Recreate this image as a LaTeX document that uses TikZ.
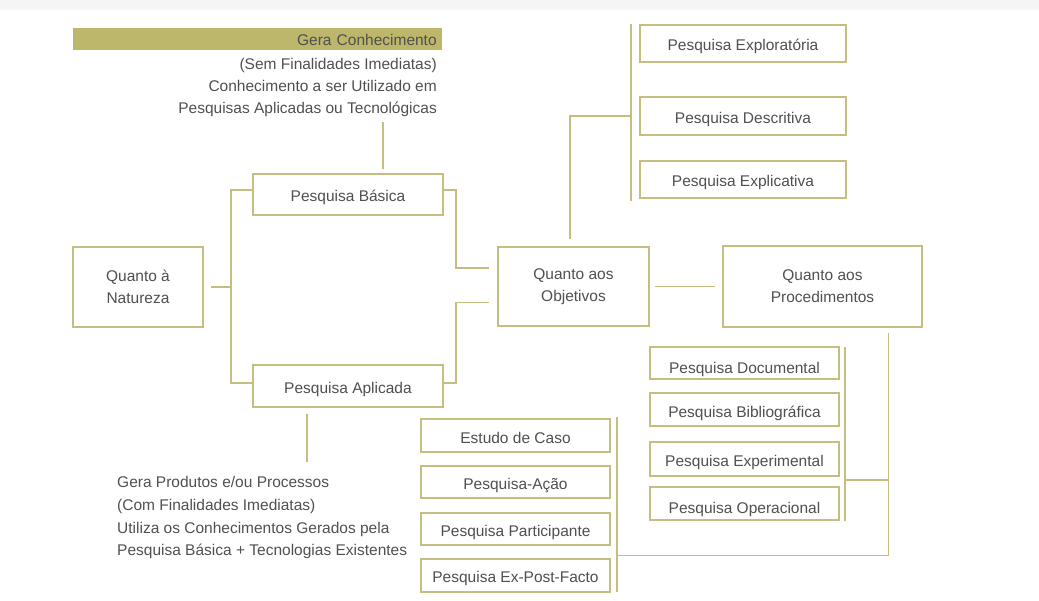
\documentclass[tikz,border=0pt]{standalone}
\usepackage{fontspec}
\setmainfont{Liberation Sans}
\usetikzlibrary{calc}
\definecolor{oliva}{RGB}{196,190,128}
\definecolor{olivafundo}{RGB}{189,183,107}
\definecolor{texto}{RGB}{80,80,80}
\begin{document}
\begin{tikzpicture}[x=1pt,y=-1pt]
    \tikzstyle{caixa}=[rectangle, draw=oliva, line width=1.8pt, fill=white,
                            inner sep=0pt, align=center, text=texto,
                            font=\fontsize{15.5}{22}\selectfont]
    \tikzstyle{linha}=[caixa, text height=17.6pt, text depth=3.5pt]
    \tikzstyle{liga}=[draw=oliva, line width=1.8pt]
    \tikzstyle{nota}=[inner sep=0pt, text=texto,
                            font=\fontsize{15.5}{22.8}\selectfont]

    \useasboundingbox (0,0) rectangle (1039,601);
    \fill[gray!8] (0,0) rectangle (1039,10);

    \node[caixa, minimum width=130, minimum height=80] (natureza) at (138,287) {Quanto à\\Natureza};
    \node[linha, minimum width=190, minimum height=41] (basica) at (348,194.5) {Pesquisa Básica};
    \node[linha, minimum width=190, minimum height=42] (aplicada) at (348,386) {Pesquisa Aplicada};
    \node[caixa, minimum width=151, minimum height=79] (objetivos) at (573.5,286.5) {Quanto aos\\Objetivos};
    \node[caixa, minimum width=199, minimum height=81] (procedimentos) at (822.5,286.5) {Quanto aos\\Procedimentos};

    \node[linha, minimum width=206, minimum height=37] (exploratoria) at (743,43.5) {Pesquisa Exploratória};
    \node[linha, minimum width=206, minimum height=38] (descritiva) at (743,116) {Pesquisa Descritiva};
    \node[linha, minimum width=206, minimum height=37] (explicativa) at (743,179.5) {Pesquisa Explicativa};

    \node[linha, text height=23.6pt, minimum width=189, minimum height=32] (documental) at (744.5,363) {Pesquisa Documental};
    \node[linha, text height=19.6pt, minimum width=189, minimum height=33] (bibliografica) at (744.5,409.5) {Pesquisa Bibliográfica};
    \node[linha, minimum width=189, minimum height=34] (experimental) at (744.5,459) {Pesquisa Experimental};
    \node[linha, text height=23.6pt, minimum width=189, minimum height=33] (operacional) at (744.5,503.5) {Pesquisa Operacional};

    \node[linha, text height=19.6pt, minimum width=189, minimum height=33] (estudo) at (515.5,435.5) {Estudo de Caso};
    \node[linha, minimum width=189, minimum height=32] (acao) at (515.5,482) {Pesquisa-Ação};
    \node[linha, minimum width=189, minimum height=32] (participante) at (515.5,529) {Pesquisa Participante};
    \node[linha, minimum width=189, minimum height=33] (expost) at (515.5,575.5) {Pesquisa Ex-Post-Facto};

    \node[nota, fill=olivafundo, inner xsep=5pt, text width=359, align=right,
          minimum height=22] (gera) at (257.2,39.5) {Gera Conhecimento};
    \node[nota, anchor=north east, align=right, font=\fontsize{15.5}{22}\selectfont] (notabasica) at (437,58)
        {(Sem Finalidades Imediatas)\\Conhecimento a ser Utilizado em\\Pesquisas Aplicadas ou Tecnológicas};
    \node[nota, anchor=north west, align=left] (notaaplicada) at (117,476)
        {Gera Produtos e/ou Processos\\(Com Finalidades Imediatas)\\Utiliza os Conhecimentos Gerados pela\\Pesquisa Básica + Tecnologias Existentes};

    \coordinate (jn) at (231,287);
    \coordinate (jv) at ($(procedimentos.south)+(66,0)$);
    \coordinate (jp) at (616,555.5);
    \coordinate (jd) at (844,480);

    \draw[liga] ([xshift=7]natureza.east) -- (jn);
    \draw[liga] ([yshift=4.5]basica.west) -| (jn) |- ([yshift=3]aplicada.west);
    \draw[liga] ([yshift=4.5]basica.east) -| ($(objetivos.west)+(-41,-18.5)$) -- ($(objetivos.west)+(-8,-18.5)$);
    \draw[liga] ([yshift=3]aplicada.east) -| ($(objetivos.west)+(-41,16)$) -- ($(objetivos.west)+(-8,16)$);
    \draw[liga] ([xshift=5]objetivos.east) -- ([xshift=-7]procedimentos.west);

    \draw[liga] ($(basica.north)+(35,-4)$) -- ++(0,-47);
    \draw[liga] ($(aplicada.south)+(-41,6)$) -- ++(0,48);

    \draw[liga] ([xshift=-8]exploratoria.north west) -- ($(explicativa.south west)+(-8,2.5)$);
    \draw[liga] ($(objetivos.north)+(-3.5,-7)$) |- ([xshift=-8]descritiva.west);

    \draw[liga] ($(estudo.north east)+(6,-1)$) -- ($(expost.south east)+(6,-1)$);
    \draw[liga] ($(documental.north east)+(5,1)$) -- ($(operacional.south east)+(5,0)$);
    \draw[liga] ($(jv)+(0,5)$) |- (jp);
    \draw[liga] (jd) -- (jd -| jv);
\end{tikzpicture}
\end{document}
